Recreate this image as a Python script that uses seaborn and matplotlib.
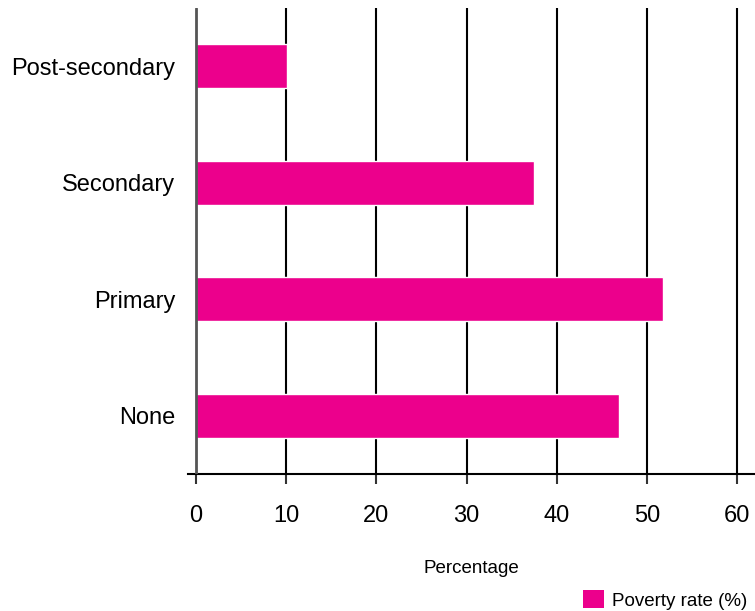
import matplotlib.pyplot as plt
import pandas as pd
import seaborn as sns
from matplotlib.patches import Patch

# Data
categories = ['Post-secondary', 'Secondary', 'Primary', 'None']
poverty_rate = [10.1, 37.5, 51.8, 46.9]
x_ticks = [0, 10, 20, 30, 40, 50, 60]

df = pd.DataFrame({'education': categories, 'rate': poverty_rate})

sns.set_style('white')
plt.rcParams['font.family'] = ['Liberation Sans', 'DejaVu Sans']
plt.rcParams['text.color'] = 'black'
plt.rcParams['xtick.color'] = 'black'
plt.rcParams['ytick.color'] = 'black'
plt.rcParams['axes.labelcolor'] = 'black'

fig = plt.figure(figsize=(7.55, 6.11), dpi=100)
ax = fig.add_axes([188 / 755, (611 - 474) / 611, 1 - 188 / 755, (474 - 8) / 611])

bar_color = '#EC008C'
sns.barplot(data=df, y='education', x='rate', orient='h', color=bar_color,
            width=0.38, saturation=1, ax=ax, zorder=3)

# vertical grid lines
for t in x_ticks[1:]:
    ax.axvline(t, color='black', lw=1.5, zorder=1)
ax.axvline(0, color='#555555', lw=2, zorder=4)

ax.set_xlim(-0.9, 62)
ax.set_ylim(3.5, -0.5)
ax.set_xticks(x_ticks)
ax.tick_params(axis='x', bottom=True, direction='out', length=7, width=1.5,
               color='#333333', labelsize=17, pad=15)
ax.tick_params(axis='y', left=False, length=0, labelsize=17, pad=9)

for name, spine in ax.spines.items():
    spine.set_visible(name == 'bottom')
ax.spines['bottom'].set_color('black')
ax.spines['bottom'].set_linewidth(1.5)

ax.set_ylabel('')
ax.set_xlabel('Percentage', fontsize=13.5, labelpad=24)

handle = Patch(facecolor=bar_color, edgecolor='none', label='Poverty rate (%)')
fig.legend(handles=[handle], loc='lower right', bbox_to_anchor=(1.0, -0.01),
           frameon=False, fontsize=13.5, handlelength=1.1, handleheight=1.1,
           handletextpad=0.45, borderaxespad=0.0)

fig.savefig('out.png', dpi=100)
